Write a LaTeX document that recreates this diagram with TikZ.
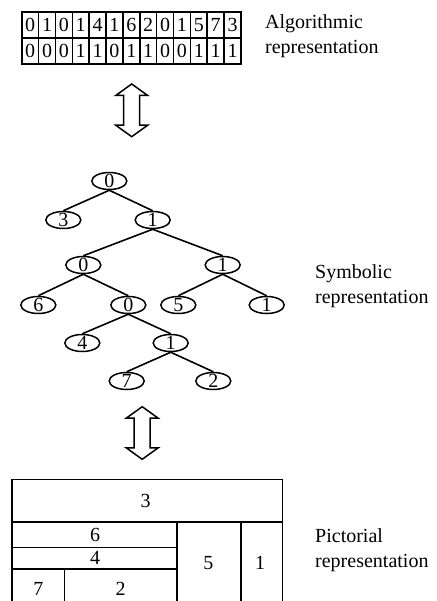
\documentclass[tikz,border=0pt]{standalone}
\usepackage{fontspec}
\setmainfont{Liberation Serif}
\usetikzlibrary{shapes.geometric}
\newcommand\myDblArrow[3]{% cx, top, bottom
  \draw[arrowline] (#1,#2) -- ++(16,11.5) -- ++(-8,0) -- (#1+8,#3-11.5) -- ++(8,0) -- (#1,#3)
    -- ++(-16,-11.5) -- ++(8,0) -- (#1-8,#2+11.5) -- ++(-8,0) -- cycle;}
\newcommand\dg[1]{\smash{\raisebox{-0.5\height}{#1}}}
\begin{document}
\begin{tikzpicture}[x=1pt,y=-1pt,
  every node/.style={font=\fontsize{20}{25}\selectfont},
  cell/.style={draw, line width=1.6pt, rectangle, minimum width=16.87pt, minimum height=26.15pt, inner sep=0pt},
  tnode/.style={draw, line width=1.5pt, ellipse, minimum width=35pt, minimum height=17pt, inner sep=0pt, fill=white},
  tedge/.style={line width=1.6pt},
  arrowline/.style={line width=1.5pt, line join=miter},
  boxline/.style={line width=1.6pt},
  lbl/.style={anchor=base west, inner sep=0pt}]
\useasboundingbox (0,0) rectangle (436,601);
% algorithmic table
\foreach \d [count=\i from 0] in {0,1,0,1,4,1,6,2,0,1,5,7,3}
  \node[cell] (a\i) at ({21.7+16.87*(\i+0.5)},24.8) {\dg{\d}};
\foreach \d [count=\i from 0] in {0,0,0,1,1,0,1,1,0,0,1,1,1}
  \node[cell] (b\i) at ({21.7+16.87*(\i+0.5)},50.9) {\dg{\d}};
\node[lbl] (alg) at (265,28.3) {\begin{tabular}[t]{@{}l@{}}Algorithmic\\representation\end{tabular}};
% arrows
\myDblArrow{131.7}{84}{136.7}
\myDblArrow{142.2}{406.7}{459.3}
% tree
\node[tnode] (r)   at (109.3,181) {\dg{0}};
\node[tnode] (n3)  at (63.3,220) {\dg{3}};
\node[tnode] (n1)  at (152.7,220) {\dg{1}};
\node[tnode] (n0b) at (83.3,265) {\dg{0}};
\node[tnode] (n1b) at (222.7,265) {\dg{1}};
\node[tnode] (n6)  at (38.3,305) {\dg{6}};
\node[tnode] (n0c) at (128.3,305) {\dg{0}};
\node[tnode] (n5)  at (178.3,305) {\dg{5}};
\node[tnode] (n1c) at (266.7,305) {\dg{1}};
\node[tnode] (n4)  at (82.3,343) {\dg{4}};
\node[tnode] (n1d) at (170.7,343) {\dg{1}};
\node[tnode] (n7)  at (126.7,381) {\dg{7}};
\node[tnode] (n2)  at (213.3,381) {\dg{2}};
\foreach \p/\c in {r/n3,r/n1,n1/n0b,n1/n1b,n0b/n6,n0b/n0c,n1b/n5,n1b/n1c,n0c/n4,n0c/n1d,n1d/n7,n1d/n2}
  \draw[tedge] (\p.south) -- (\c.north);
\node[lbl] (sym) at (315,278.3) {\begin{tabular}[t]{@{}l@{}}Symbolic\\representation\end{tabular}};
% pictorial
\draw[boxline] (11.7,610) -- (11.7,479.3) -- (282.5,479.3) -- (282.5,610);
\draw[boxline] (11.7,521.7) -- (282.5,521.7);
\draw[boxline] (11.7,547.3) -- (176.7,547.3);
\draw[boxline] (11.7,568.7) -- (176.7,568.7);
\draw[boxline] (64.3,568.7) -- (64.3,610);
\draw[boxline] (176.7,521.7) -- (176.7,610);
\draw[boxline] (240.7,521.7) -- (240.7,610);
\node (p3) at (145.7,500.5) {\dg{3}};
\node (p6) at (95,535) {\dg{6}};
\node (p4) at (95,558) {\dg{4}};
\node (p7) at (38.3,589.3) {\dg{7}};
\node (p2) at (120.7,589.3) {\dg{2}};
\node (p5) at (208.3,563.3) {\dg{5}};
\node (p1) at (260,563.3) {\dg{1}};
\node[lbl] (pic) at (315,542.7) {\begin{tabular}[t]{@{}l@{}}Pictorial\\representation\end{tabular}};
\end{tikzpicture}
\end{document}
